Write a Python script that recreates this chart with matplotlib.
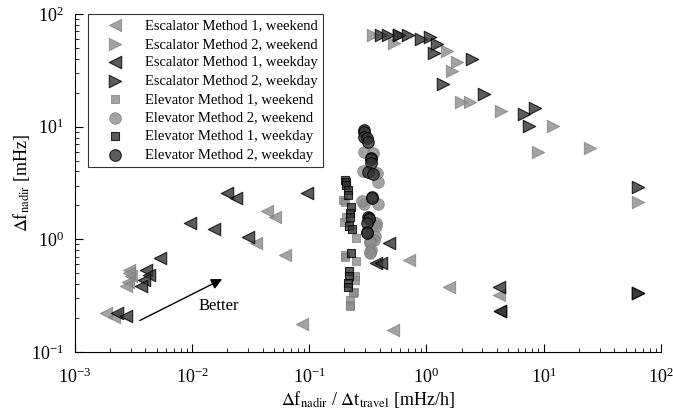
#scatter of nadir frequency drop vs rate, escalator / elevator methods
import matplotlib
matplotlib.use('Agg')
import matplotlib.pyplot as plt

plt.rcParams['font.family'] = ['Liberation Serif', 'DejaVu Serif']
plt.rcParams['mathtext.fontset'] = 'stix'

# escalator method 1, weekend (light, left triangles)
esc1_we_x = [0.0435, 0.0512, 0.0353, 0.0622, 0.00292, 0.00302, 0.00283, 0.00274, 0.0029, 0.00186, 0.00218,
             0.0861, 0.713, 1.56, 4.18, 0.515]
esc1_we_y = [1.79, 1.59, 0.923, 0.728, 0.535, 0.467, 0.421, 0.386, 0.50, 0.221, 0.206,
             0.178, 0.657, 0.373, 0.321, 0.157]
# escalator method 2, weekend (light, right triangles)
esc2_we_x = [0.349, 0.532, 1.51, 1.81, 1.66, 1.98, 2.35, 4.35, 12.1, 8.9, 24.7, 63.5]
esc2_we_y = [65.0, 55.0, 47.2, 37.7, 31.4, 16.7, 16.7, 13.8, 10.1, 6.0, 6.43, 2.12]
# escalator method 1, weekday (dark, left triangles)
esc1_wd_x = [0.0199, 0.0237, 0.0949, 0.0096, 0.0153, 0.0299, 0.00532, 0.00406, 0.00432, 0.00392, 0.00367,
             0.0023, 0.00274, 0.483, 0.372, 0.41, 4.18, 4.26, 4.26]
esc1_wd_y = [2.56, 2.32, 2.56, 1.39, 1.24, 1.04, 0.68, 0.535, 0.483, 0.436, 0.386,
             0.221, 0.209, 0.935, 0.614, 0.614, 0.376, 0.232, 0.232]
# escalator method 2, weekday (dark, right triangles)
esc2_wd_x = [0.41, 0.467, 0.587, 0.587, 0.69, 0.895, 1.07, 1.24, 1.16, 2.45, 1.39, 3.08, 6.86, 8.44, 7.5,
             63.5, 63.5, 63.5]
esc2_wd_y = [65.0, 65.0, 65.0, 65.0, 65.0, 59.6, 62.2, 53.9, 44.8, 39.9, 23.9, 19.5, 12.9, 14.6, 10.1,
             2.93, 0.336, 0.336]
# elevator method 1, weekend (light squares)
elv1_we_x = [0.195, 0.201, 0.208, 0.199, 0.252, 0.201, 0.201, 0.252, 0.246, 0.246, 0.243, 0.236, 0.225,
             0.221, 0.221]
elv1_we_y = [2.24, 2.15, 1.59, 1.41, 1.02, 0.728, 0.70, 0.643, 0.467, 0.436, 0.343, 0.333, 0.29,
             0.262, 0.255]
# elevator method 2, weekend (light circles)
elv2_we_x = [0.296, 0.35, 0.287, 0.379, 0.384, 0.296, 0.384, 0.28, 0.372, 0.372, 0.361, 0.357, 0.327,
             0.327, 0.337, 0.327, 0.327]
elv2_we_y = [6.0, 5.81, 4.07, 3.91, 3.25, 2.06, 2.06, 2.2, 1.39, 1.30, 1.06, 0.988, 0.955,
             0.923, 0.806, 0.777, 0.753]
# elevator method 1, weekday (dark squares)
elv1_wd_x = [0.201, 0.205, 0.208, 0.214, 0.214, 0.229, 0.225, 0.225, 0.218, 0.232, 0.229, 0.218, 0.218,
             0.214, 0.214]
elv1_wd_y = [3.37, 3.2, 3.04, 2.74, 2.48, 1.95, 1.71, 1.57, 1.32, 1.23, 0.762, 0.517, 0.467,
             0.408, 0.38]
# elevator method 2, weekday (dark circles)
elv2_wd_x = [0.296, 0.296, 0.296, 0.312, 0.317, 0.337, 0.337, 0.337, 0.317, 0.35, 0.343, 0.343, 0.317,
             0.321, 0.321, 0.312, 0.312, 0.312]
elv2_wd_y = [9.35, 9.03, 8.15, 7.89, 7.36, 5.25, 5.14, 4.73, 3.98, 3.80, 2.39, 2.32, 1.59,
             1.54, 1.51, 1.39, 1.17, 1.13]

light = '#8c8c8c'
dark = '#333333'

fig, ax = plt.subplots(figsize=(6.73, 4.12), dpi=100)
fig.subplots_adjust(left=0.111, right=0.982, bottom=0.146, top=0.966)

ax.scatter(esc1_we_x, esc1_we_y, marker='<', s=80, c=light, edgecolors='#7a7a7a', linewidths=0.6, alpha=0.8,
           label='Escalator Method 1, weekend')
ax.scatter(esc2_we_x, esc2_we_y, marker='>', s=80, c=light, edgecolors='#7a7a7a', linewidths=0.6, alpha=0.8,
           label='Escalator Method 2, weekend')
ax.scatter(esc1_wd_x, esc1_wd_y, marker='<', s=80, c=dark, edgecolors='black', linewidths=0.8, alpha=0.8,
           label='Escalator Method 1, weekday')
ax.scatter(esc2_wd_x, esc2_wd_y, marker='>', s=80, c=dark, edgecolors='black', linewidths=0.8, alpha=0.8,
           label='Escalator Method 2, weekday')
ax.scatter(elv1_we_x, elv1_we_y, marker='s', s=38, c=light, edgecolors='#7a7a7a', linewidths=0.6, alpha=0.8,
           label='Elevator Method 1, weekend')
ax.scatter(elv2_we_x, elv2_we_y, marker='o', s=70, c=light, edgecolors='#7a7a7a', linewidths=0.6, alpha=0.8,
           label='Elevator Method 2, weekend')
ax.scatter(elv1_wd_x, elv1_wd_y, marker='s', s=38, c=dark, edgecolors='black', linewidths=0.8, alpha=0.8,
           label='Elevator Method 1, weekday')
ax.scatter(elv2_wd_x, elv2_wd_y, marker='o', s=70, c=dark, edgecolors='black', linewidths=0.8, alpha=0.8,
           label='Elevator Method 2, weekday')

ax.set_xscale('log')
ax.set_yscale('log')
ax.set_xlim(1e-3, 1e2)
ax.set_ylim(1e-1, 1e2)

ax.spines['top'].set_visible(False)
ax.spines['right'].set_visible(False)
ax.tick_params(which='both', direction='in', top=False, right=False, labelsize=13)
ax.tick_params(which='major', length=6)
ax.tick_params(which='minor', length=3)
ax.tick_params(axis='x', which='both', pad=11)
ax.tick_params(axis='y', which='both', pad=8)

ax.set_xlabel(r'$\Delta$f$_{\rm nadir}$ / $\Delta$t$_{\rm travel}$ [mHz/h]', fontsize=13, labelpad=2)
ax.set_ylabel(r'$\Delta$f$_{\rm nadir}$ [mHz]', fontsize=13, labelpad=-1)

ax.annotate('', xy=(0.019, 0.454), xytext=(0.00342, 0.185),
            arrowprops=dict(arrowstyle='-|>', color='black', lw=1, mutation_scale=16))
ax.text(0.017, 0.253, 'Better', fontsize=12, ha='center', va='center')

leg = ax.legend(loc='upper left', bbox_to_anchor=(0.022, 1.0), borderaxespad=0, fancybox=False,
                edgecolor='black', fontsize=10.5, handletextpad=0.6, labelspacing=0.36, borderpad=0.35,
                handlelength=3.0)
leg.get_frame().set_linewidth(0.8)

plt.savefig('out.png', dpi=100)
